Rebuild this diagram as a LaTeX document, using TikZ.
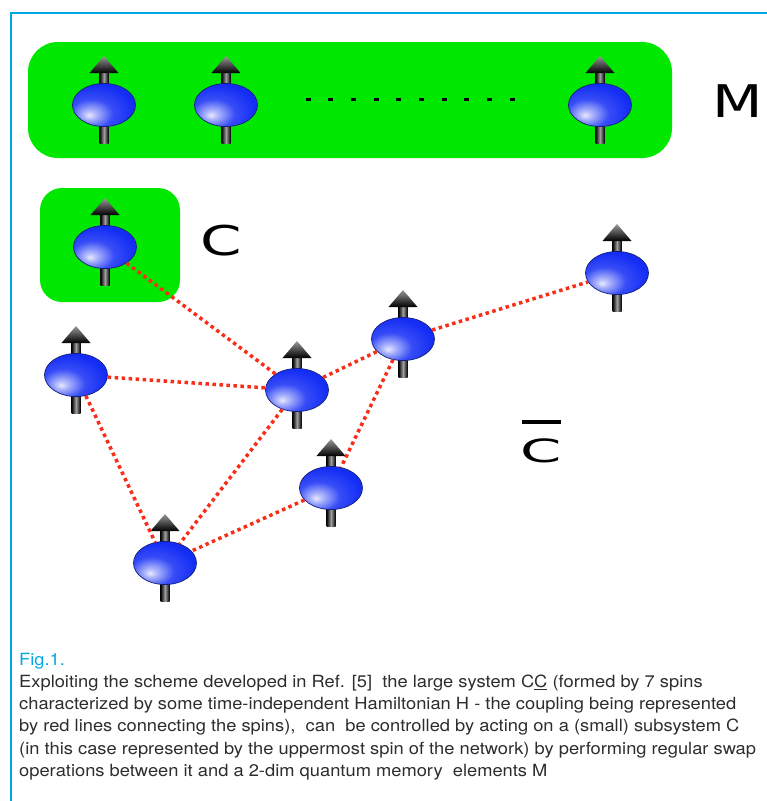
\documentclass[tikz,border=0pt]{standalone}
\usepackage{fontspec}
\usepackage{graphicx}
\setmainfont{TeX Gyre Heros}[FakeStretch=1.09]
\newfontfamily\labelfont{DejaVu Sans}
\usetikzlibrary{shapes.geometric}

\definecolor{memgreen}{RGB}{0,232,0}
\definecolor{framecyan}{RGB}{0,168,226}
\definecolor{linkred}{RGB}{250,45,25}
\definecolor{spinblue}{RGB}{20,45,245}
\definecolor{spinedge}{RGB}{20,30,120}
\definecolor{captiongray}{RGB}{45,45,45}

% ball shading with the highlight low on the left
\pgfdeclareradialshading{spinglow}{\pgfpoint{-12bp}{-12bp}}{%
  color(0bp)=(spinblue!10!white); color(5bp)=(spinblue!35!white);
  color(17bp)=(spinblue!85!white); color(32bp)=(spinblue); color(100bp)=(spinblue)}

\begin{document}
\begin{tikzpicture}[x=1pt, y=-1pt,
  spin/.style={ellipse, draw=spinedge, line width=0.7pt, minimum width=63pt, minimum height=43pt, inner sep=0pt, shade, shading=spinglow},
  greenbox/.style={fill=memgreen, rounded corners=#1},
  coupling/.style={draw=linkred, line width=3.5pt, dash pattern=on 3.5pt off 3.5pt},
  biglabel/.style={inner sep=0pt, text=black},
  caption/.style={inner sep=0pt, align=left, text=captiongray, font=\fontsize{16.8}{22.3}\selectfont}
]
  \useasboundingbox (0,0) rectangle (767,801);

  % Frame
  \draw[framecyan, line width=2.5pt] (11,801) -- (11,13) -- (767,13);

  % Memory and control regions
  \fill[greenbox=30pt] (28,42) rectangle (672,158);
  \fill[greenbox=22pt] (40,188) rectangle (180,302);

  % Spins
  \foreach \n/\x/\y in {m1/104/105, m2/226/105, m3/600/105, c/105/247, r/617/273,
                        s/403/339, h/297/390, l/76/375, d/331/488, b/165/563} {
    \begin{scope}[shift={(\x,\y)}]
      \shade[left color=black, right color=black, middle color=gray!75] (-4.5,38) rectangle (4.5,-33);
      \shade[top color=gray!80, bottom color=black] (-14.5,-32) -- (14.5,-32) -- (0,-49) -- cycle;
      \node[spin] (\n) at (0,0) {};
    \end{scope}
  }

  % Dots between memory spins
  \foreach \i in {0,...,9}
    \fill ({305.5+22.7*\i},97.5) rectangle ++(5,3);

  % Couplings
  \foreach \a/\b in {c/h, l/h, h/s, s/r, s/d, h/b, l/b, d/b}
    \draw[coupling] (\a) -- (\b);

  % Labels
  \node[biglabel, font=\labelfont\fontsize{45}{45}\selectfont] (mlabel) at (738,101) {\scalebox{1.3}[1]{M}};
  \node[biglabel, font=\labelfont\fontsize{41}{41}\selectfont] (clabel) at (221,241) {\scalebox{1.45}[1]{C}};
  \node[biglabel, align=center, anchor=south, font=\labelfont\fontsize{32}{38}\selectfont] (cbarlabel) at (541,463)
    {\rule{39pt}{4pt}\\\scalebox{1.85}[1]{C}};

  % Caption
  \node[caption, anchor=base west] (capt) at (19,776.5)
    {\textcolor{framecyan}{Fig.1.}\\
     Exploiting the scheme developed in Ref. [5]\ \ the large system C\underline{C} (formed by 7 spins\\
     characterized by some time-independent Hamiltonian H - the coupling being represented\\
     by red lines connecting the spins),\ \ can\ \ be controlled by acting on a (small) subsystem C\\
     (in this case represented by the uppermost spin of the network) by performing regular swap\\
     operations between it and a 2-dim quantum memory\ \ elements M};
\end{tikzpicture}
\end{document}
